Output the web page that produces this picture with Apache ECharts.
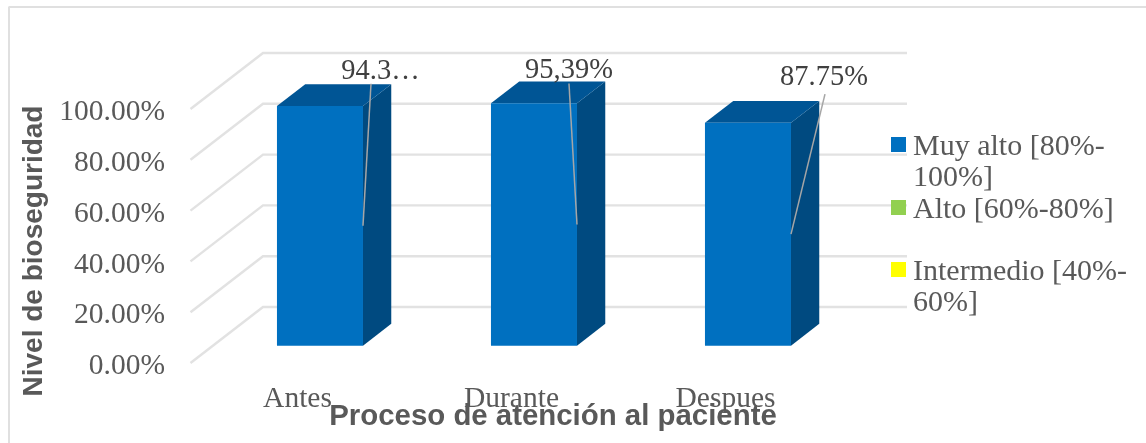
<!DOCTYPE html>
<html>
<head>
<meta charset="utf-8">
<title>Nivel de bioseguridad</title>
<style>
  html, body { margin: 0; padding: 0; background: #ffffff; }
  #chart { width: 1146px; height: 443px; }
</style>
<script src="https://cdn.jsdelivr.net/npm/echarts@6/dist/echarts.min.js"></script>
</head>
<body>
<div id="chart"></div>
<script>
// Chart content
const categories = ['Antes', 'Durante', 'Despues'];
const muyAltoValues = [94.35, 95.39, 87.75];
const dataLabels = ['94.3…', '95,39%', '87.75%'];
const gridTicks = [0, 20, 40, 60, 80, 100];
const legendNames = ['Muy alto [80%-\n100%]', 'Alto [60%-80%]', 'Intermedio [40%-\n60%]'];
const legendColors = ['#0070c0', '#92d050', '#ffff00'];
const yTitle = 'Nivel de bioseguridad';
const xTitle = 'Proceso de atención al paciente';

// Oblique projection of the 3D look: how far the floor runs back, in pixels
const WALL_DX = 72.5, WALL_DY = -56;
const WALL_OVERRUN = 2;                 // back wall runs slightly past the last band
const BAR_NEAR = 0.31, BAR_FAR = 0.7;   // bar depth as a fraction of the floor
const SERIF = '"Liberation Serif", serif';
const SANS = '"Liberation Sans", Arial, sans-serif';
const TEXT_GREY = '#595959';

// Where each data label and its leader line sit, relative to the bar's mid edge
const labelOffsets = [[17.5, -154], [-8, -154], [33, -157]];
const leaderOffsets = [[8, -142], [-8, -141], [34, -140]];

const chart = echarts.init(document.getElementById('chart'), null, { renderer: 'canvas' });

function renderGridLine(params, api) {
  const rect = params.coordSys;
  const p = api.coord([0, api.value(0)]);
  const y = p[1];
  return {
    type: 'polyline',
    shape: { points: [
      [rect.x, y],
      [rect.x + WALL_DX, y + WALL_DY],
      [rect.x + rect.width + WALL_DX + WALL_OVERRUN, y + WALL_DY]
    ] },
    style: { stroke: '#e2e2e2', lineWidth: 2.4, fill: null }
  };
}

function renderBar(params, api) {
  const idx = api.value(0);
  const val = api.value(1);
  const base = api.coord([idx, 0]);
  const top = api.coord([idx, val]);
  const mid = api.coord([idx, val / 2]);
  const w = api.size([1, 0])[0] * 0.402;
  const nx = WALL_DX * BAR_NEAR, ny = WALL_DY * BAR_NEAR;
  const dx = WALL_DX * (BAR_FAR - BAR_NEAR), dy = WALL_DY * (BAR_FAR - BAR_NEAR);
  const l = base[0] + nx - w / 2, r = l + w;
  const yb = base[1] + ny, yt = top[1] + ny;
  const anchorY = mid[1] + ny;
  const i = params.dataIndex;
  return {
    type: 'group',
    children: [
      { type: 'polygon', shape: { points: [[r, yt], [r + dx, yt + dy], [r + dx, yb + dy], [r, yb]] },
        style: { fill: '#004a80' } },
      { type: 'polygon', shape: { points: [[l, yt], [l + dx, yt + dy], [r + dx, yt + dy], [r, yt]] },
        style: { fill: '#005595' } },
      { type: 'rect', shape: { x: l, y: yt, width: w, height: yb - yt },
        style: { fill: '#0070c0' } },
      { type: 'line',
        shape: { x1: r, y1: anchorY, x2: r + leaderOffsets[i][0], y2: anchorY + leaderOffsets[i][1] },
        style: { stroke: '#a6a6a6', lineWidth: 1.5 } },
      { type: 'text',
        style: { x: r + labelOffsets[i][0], y: anchorY + labelOffsets[i][1], text: dataLabels[i],
          align: 'center', verticalAlign: 'middle', fill: '#404040',
          font: '28.5px ' + SERIF } }
    ]
  };
}

// Legend rows: swatch beside the first text line, wrapped text below it
const legendRowY = [145, 208, 270];
const legendGraphics = [];
legendNames.forEach(function (name, i) {
  legendGraphics.push({
    type: 'rect', left: 891, top: legendRowY[i] - 8, z: 10,
    shape: { width: 15, height: 15 }, style: { fill: legendColors[i] }
  });
  legendGraphics.push({
    type: 'text', left: 913, top: legendRowY[i] - 13.5, z: 10,
    style: { text: name, fill: TEXT_GREY, font: '30px ' + SERIF, lineHeight: 31 }
  });
});

chart.setOption({
  animation: false,
  backgroundColor: '#ffffff',
  // First grid carries the marks; the second sits a little lower and only holds the value labels
  grid: [
    { left: 190.5, top: 109, width: 642, height: 254 },
    { left: 190.5, top: 112.5, width: 642, height: 254 }
  ],
  xAxis: [
    {
      type: 'category',
      gridIndex: 0,
      data: categories,
      boundaryGap: true,
      axisLine: { show: false },
      axisTick: { show: false },
      axisLabel: { color: TEXT_GREY, fontFamily: SERIF, fontSize: 29.5, margin: 21 }
    },
    { type: 'category', gridIndex: 1, data: categories, show: false }
  ],
  yAxis: [
    { type: 'value', gridIndex: 0, min: 0, max: 100, interval: 20, show: false },
    {
      type: 'value',
      gridIndex: 1,
      min: 0,
      max: 100,
      interval: 20,
      splitLine: { show: false },
      axisLine: { show: false },
      axisTick: { show: false },
      axisLabel: {
        color: TEXT_GREY, fontFamily: SERIF, fontSize: 29.5, margin: 25.5,
        formatter: function (v) { return v.toFixed(2) + '%'; }
      }
    }
  ],
  series: [
    {
      type: 'custom',
      name: 'Cuadrícula',
      silent: true,
      z: 1,
      xAxisIndex: 0,
      yAxisIndex: 0,
      data: gridTicks.map(function (t) { return [t]; }),
      encode: { y: 0 },
      renderItem: renderGridLine
    },
    {
      type: 'custom',
      name: 'Muy alto [80%-100%]',
      z: 2,
      xAxisIndex: 0,
      yAxisIndex: 0,
      data: muyAltoValues.map(function (v, i) { return [i, v]; }),
      encode: { x: 0, y: 1 },
      renderItem: renderBar
    }
  ],
  graphic: [
    // Chart frame: only the top and left edges fall inside the page
    { type: 'line', shape: { x1: 8.5, y1: 7, x2: 1146, y2: 7 }, style: { stroke: '#e0e0e0', lineWidth: 2 } },
    { type: 'line', shape: { x1: 9, y1: 7, x2: 9, y2: 443 }, style: { stroke: '#e0e0e0', lineWidth: 2 } },
    // Axis titles, off-centre from the plot area
    { type: 'text', x: 34, y: 251, rotation: Math.PI / 2, z: 10,
      style: { text: yTitle, fill: TEXT_GREY, font: 'bold 28px ' + SANS, align: 'center', verticalAlign: 'middle' } },
    { type: 'text', x: 553, y: 417, z: 10,
      style: { text: xTitle, fill: TEXT_GREY, font: 'bold 29.4px ' + SANS, align: 'center', verticalAlign: 'middle' } }
  ].concat(legendGraphics)
});
</script>
</body>
</html>
